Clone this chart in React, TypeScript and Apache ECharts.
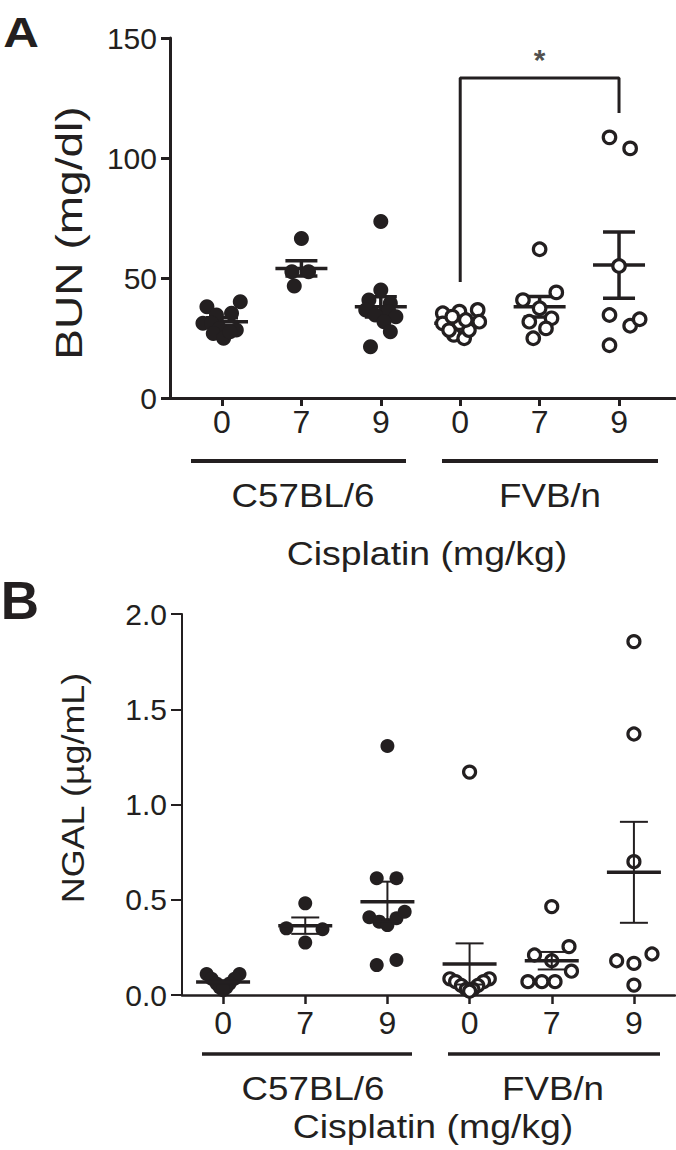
import React, { useEffect, useRef } from "react";
import * as echarts from "echarts";

const INK = "#231f20";
const FONT = "'Liberation Sans', Arial, Helvetica, sans-serif";

// x positions of the six groups and their dose tick labels
const groupPositions = [1, 2, 3, 4, 5, 6];
const doseTicks = ["0", "7", "9", "0", "7", "9"];
const strainLabels = ["C57BL/6", "FVB/n"];
const xTitle = "Cisplatin (mg/kg)";

// ---------- Panel A: BUN (mg/dl) ----------
const bunC57_0 = [38.0, 40.1, 35.3, 34.6, 31.1, 31.1, 29.0, 28.3, 26.9, 24.9, 27.6];
const bunC57_0Jitter = [-0.19, 0.23, 0.12, -0.07, -0.24, -0.13, -0.03, 0.18, -0.11, 0.02, 0.1];
const bunC57_7 = [66.5, 52.6, 52.6, 46.7];
const bunC57_7Jitter = [0, -0.12, 0.09, -0.09];
const bunC57_9 = [73.5, 45, 40.8, 39.5, 36.7, 36, 34.6, 33.9, 31.8, 27.6, 21.4];
const bunC57_9Jitter = [0, 0, -0.15, 0.12, -0.19, 0.1, -0.07, 0.19, 0.04, 0.12, -0.13];
const bunFVB_0 = [35.3, 36, 36.7, 31.1, 31.8, 26.3, 24.9, 28.3, 28.3, 31.2, 33.9, 32.5];
const bunFVB_0Jitter = [-0.22, -0.01, 0.22, -0.22, 0.24, -0.08, 0.05, -0.14, 0.11, -0.01, -0.1, 0.07];
const bunFVB_7 = [62, 40.8, 44, 37.4, 31.8, 33.2, 29, 24.9];
const bunFVB_7Jitter = [0, -0.21, 0.21, 0, -0.13, 0.15, 0.08, -0.08];
const bunFVB_9 = [108.6, 104, 55, 34.6, 30.1, 32.8, 22];
const bunFVB_9Jitter = [-0.12, 0.14, 0, -0.12, 0.14, 0.26, -0.12];
const bunMean = [31.8, 54.0, 38.0, 31.1, 38.0, 55.4];
const bunSem = [1.6, 3.2, 4.2, 1.2, 4.3, 13.8];
const bunTicks = { min: 0, max: 150, interval: 50 };
// significance bracket FVB/n 0 vs 9
const sigBracket = [[4, 48.3], [4, 133.3], [6, 133.3], [6, 118.8]];
const sigStar = [[5, 141]];

// ---------- Panel B: NGAL (µg/mL) ----------
const ngalC57_0 = [0.11, 0.11, 0.085, 0.085, 0.06, 0.06, 0.04, 0.04, 0.025, 0.03];
const ngalC57_0Jitter = [-0.2, 0.2, -0.14, 0.14, -0.08, 0.08, -0.04, 0.04, 0, 0];
const ngalC57_7 = [0.481, 0.35, 0.345, 0.275];
const ngalC57_7Jitter = [0, -0.23, 0.21, 0];
const ngalC57_9 = [1.307, 0.613, 0.613, 0.408, 0.385, 0.367, 0.403, 0.437, 0.157, 0.184];
const ngalC57_9Jitter = [0, -0.13, 0.11, -0.22, -0.1, 0, 0.11, 0.21, -0.13, 0.11];
const ngalFVB_0 = [1.17, 0.085, 0.085, 0.07, 0.07, 0.05, 0.05, 0.03, 0.03, 0.02];
const ngalFVB_0Jitter = [0, -0.24, 0.24, -0.17, 0.17, -0.1, 0.1, -0.04, 0.04, 0];
const ngalFVB_7 = [0.464, 0.21, 0.254, 0.18, 0.125, 0.07, 0.07, 0.07];
const ngalFVB_7Jitter = [0, -0.21, 0.21, 0, 0.24, -0.29, -0.12, 0.04];
const ngalFVB_9 = [1.855, 1.37, 0.7, 0.18, 0.166, 0.215, 0.052];
const ngalFVB_9Jitter = [0, 0, 0, -0.21, 0, 0.22, 0];
const ngalMean = [0.068, 0.364, 0.49, 0.163, 0.18, 0.644];
const ngalSem = [0.01, 0.043, 0.105, 0.108, 0.046, 0.265];
const ngalTicks = { min: 0, max: 2, interval: 0.5 };

const toPoints = (pos: number, vals: number[], jit: number[]) =>
  vals.map((v, i) => [pos + jit[i], v]);

const errRenderer =
  (meanHalf: number, capHalf: number, meanW: number, semW: number) =>
  (params: any, api: any) => {
    const x = api.value(0);
    const m = api.value(1);
    const s = api.value(2);
    const c = api.coord([x, m]);
    const top = api.coord([x, m + s]);
    const bot = api.coord([x, m - s]);
    const semStyle = { stroke: INK, lineWidth: semW, fill: null };
    return {
      type: "group",
      children: [
        { type: "line", shape: { x1: c[0], y1: top[1], x2: c[0], y2: bot[1] }, style: semStyle },
        { type: "line", shape: { x1: c[0] - capHalf, y1: top[1], x2: c[0] + capHalf, y2: top[1] }, style: semStyle },
        { type: "line", shape: { x1: c[0] - capHalf, y1: bot[1], x2: c[0] + capHalf, y2: bot[1] }, style: semStyle },
        { type: "line", shape: { x1: c[0] - meanHalf, y1: c[1], x2: c[0] + meanHalf, y2: c[1] }, style: { stroke: INK, lineWidth: meanW, fill: null } },
      ],
    };
  };

const makeX = (gridIndex: number, min: number, max: number, lw: number, tickLen: number, margin: number) => ({
  type: "value",
  gridIndex,
  min,
  max,
  splitLine: { show: false },
  axisLine: { show: true, onZero: false, lineStyle: { color: INK, width: lw } },
  axisTick: { show: true, customValues: groupPositions, length: tickLen, lineStyle: { color: INK, width: lw } },
  axisLabel: {
    show: true,
    customValues: groupPositions,
    formatter: (v: number) => doseTicks[Math.round(v) - 1] ?? "",
    color: INK,
    fontSize: 32,
    fontFamily: FONT,
    margin,
  },
});

const makeY = (
  gridIndex: number,
  t: { min: number; max: number; interval: number },
  lw: number,
  tickLen: number,
  margin: number,
  fmt?: (v: number) => string
) => ({
  type: "value",
  gridIndex,
  min: t.min,
  max: t.max,
  interval: t.interval,
  splitLine: { show: false },
  axisLine: { show: true, onZero: false, lineStyle: { color: INK, width: lw } },
  axisTick: { show: true, length: tickLen, lineStyle: { color: INK, width: lw } },
  axisLabel: { color: INK, fontSize: 30, fontFamily: FONT, margin, formatter: fmt },
});

const txt = (
  text: string,
  x: number,
  y: number,
  size: number,
  opts: { bold?: boolean; scaleX?: number; rotation?: number } = {}
) => ({
  type: "text",
  x,
  y,
  rotation: opts.rotation ?? 0,
  scaleX: opts.scaleX ?? 1,
  scaleY: 1,
  style: {
    text,
    fill: INK,
    font: `${opts.bold ? "bold " : ""}${size}px ${FONT}`,
    textAlign: "center",
    textVerticalAlign: "middle",
    align: "center",
    verticalAlign: "middle",
  },
});

const hline = (x1: number, x2: number, y: number, w: number) => ({
  type: "line",
  shape: { x1, y1: y, x2, y2: y },
  style: { stroke: INK, lineWidth: w },
});

export default function App() {
  const ref = useRef<HTMLDivElement>(null);

  useEffect(() => {
    if (!ref.current) return;
    const chart = echarts.init(ref.current, undefined, { renderer: "svg" });

    const bunFilled = [
      ...toPoints(1, bunC57_0, bunC57_0Jitter),
      ...toPoints(2, bunC57_7, bunC57_7Jitter),
      ...toPoints(3, bunC57_9, bunC57_9Jitter),
    ];
    const bunOpen = [
      ...toPoints(4, bunFVB_0, bunFVB_0Jitter),
      ...toPoints(5, bunFVB_7, bunFVB_7Jitter),
      ...toPoints(6, bunFVB_9, bunFVB_9Jitter),
    ];
    const ngalFilled = [
      ...toPoints(1, ngalC57_0, ngalC57_0Jitter),
      ...toPoints(2, ngalC57_7, ngalC57_7Jitter),
      ...toPoints(3, ngalC57_9, ngalC57_9Jitter),
    ];
    const ngalOpen = [
      ...toPoints(4, ngalFVB_0, ngalFVB_0Jitter),
      ...toPoints(5, ngalFVB_7, ngalFVB_7Jitter),
      ...toPoints(6, ngalFVB_9, ngalFVB_9Jitter),
    ];

    const option: any = {
      animation: false,
      backgroundColor: "#ffffff",
      grid: [
        { left: 170, top: 38, width: 505, height: 360 },
        { left: 182, top: 614, width: 493, height: 381 },
      ],
      xAxis: [makeX(0, 0.345, 6.705, 3, 8, 8), makeX(1, 0.5, 6.5, 2.5, 9, 12)],
      yAxis: [
        makeY(0, bunTicks, 3, 9, 13),
        makeY(1, ngalTicks, 2, 11, 15, (v: number) => v.toFixed(1)),
      ],
      series: [
        {
          type: "custom",
          xAxisIndex: 0,
          yAxisIndex: 0,
          z: 1,
          renderItem: errRenderer(26, 16, 3.5, 3.5),
          encode: { x: 0, y: 1 },
          data: groupPositions.map((p, i) => [p, bunMean[i], bunSem[i]]),
        },
        {
          type: "scatter",
          xAxisIndex: 0,
          yAxisIndex: 0,
          z: 3,
          symbol: "circle",
          symbolSize: 15,
          itemStyle: { color: INK, borderWidth: 0, opacity: 1 },
          data: bunFilled,
        },
        {
          type: "scatter",
          xAxisIndex: 0,
          yAxisIndex: 0,
          z: 3,
          symbol: "circle",
          symbolSize: 12.5,
          itemStyle: { color: "#ffffff", borderColor: INK, borderWidth: 3.2, opacity: 1 },
          data: bunOpen,
        },
        {
          type: "line",
          xAxisIndex: 0,
          yAxisIndex: 0,
          z: 2,
          symbol: "none",
          lineStyle: { color: INK, width: 3 },
          data: sigBracket,
        },
        {
          type: "scatter",
          xAxisIndex: 0,
          yAxisIndex: 0,
          symbolSize: 0,
          label: {
            show: true,
            position: "inside",
            formatter: "*",
            color: INK,
            fontSize: 30,
            fontWeight: "bold",
            fontFamily: FONT,
          },
          data: sigStar,
        },
        {
          type: "scatter",
          xAxisIndex: 1,
          yAxisIndex: 1,
          z: 2,
          symbol: "circle",
          symbolSize: 14,
          itemStyle: { color: INK, borderWidth: 0, opacity: 1 },
          data: ngalFilled,
        },
        {
          type: "scatter",
          xAxisIndex: 1,
          yAxisIndex: 1,
          z: 2,
          symbol: "circle",
          symbolSize: 12,
          itemStyle: { color: "#ffffff", borderColor: INK, borderWidth: 3.2, opacity: 1 },
          data: ngalOpen,
        },
        {
          type: "custom",
          xAxisIndex: 1,
          yAxisIndex: 1,
          z: 4,
          renderItem: errRenderer(27, 14, 3.5, 2),
          encode: { x: 0, y: 1 },
          data: groupPositions.map((p, i) => [p, ngalMean[i], ngalSem[i]]),
        },
      ],
      graphic: [
        // panel letters
        txt("A", 21, 32, 43, { bold: true, scaleX: 1.15 }),
        txt("B", 20, 600, 53, { bold: true }),
        // y-axis titles
        txt("BUN (mg/dl)", 70, 233, 36, { rotation: Math.PI / 2, scaleX: 1.28 }),
        txt("NGAL (µg/mL)", 73, 788, 32, { rotation: Math.PI / 2, scaleX: 1.12 }),
        // panel A group annotations
        hline(191, 406, 461, 4),
        hline(442, 658, 461, 4),
        txt(strainLabels[0], 303, 495, 34, { scaleX: 1.08 }),
        txt(strainLabels[1], 550, 495, 34, { scaleX: 1.08 }),
        txt(xTitle, 427, 554, 34, { scaleX: 1.1 }),
        // panel B group annotations
        hline(202, 412, 1054, 3.5),
        hline(448, 660, 1054, 3.5),
        txt(strainLabels[0], 313, 1088, 34, { scaleX: 1.08 }),
        txt(strainLabels[1], 553, 1088, 34, { scaleX: 1.08 }),
        txt(xTitle, 433, 1127, 34, { scaleX: 1.1 }),
      ],
    };

    chart.setOption(option);
    return () => chart.dispose();
  }, []);

  return (
    <div
      ref={ref}
      style={{ position: "absolute", left: 0, top: 0, width: 676, height: 1150, background: "#fff" }}
    />
  );
}
